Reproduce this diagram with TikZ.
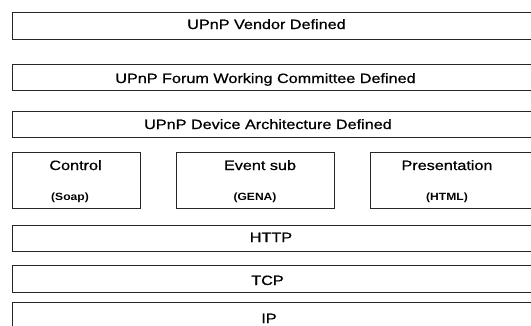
\documentclass[tikz,border=0pt]{standalone}
\usepackage{fontspec}
\setmainfont{Liberation Sans}
\newfontfamily\heavyfont[FakeBold=0.6]{Liberation Sans}
\begin{document}
\begin{tikzpicture}[x=1pt,y=-1pt,
  layer/.style={draw=black!85, line width=0.9pt, fill=white, rectangle, inner sep=0pt, anchor=north west},
  lbl/.style={font=\heavyfont\fontsize{13.5}{16}\selectfont, xscale=1.2, anchor=base, inner sep=0pt},
  sub/.style={font=\bfseries\fontsize{10.5}{12}\selectfont, xscale=1.15, anchor=base, inner sep=0pt}]
\useasboundingbox (0,0) rectangle (531,325);
\clip (0,0) rectangle (531,325);
% boxes
\node[layer, minimum width=528pt, minimum height=27pt] (vendor) at (12,12) {};
\node[layer, minimum width=528pt, minimum height=26pt] (forum) at (12,64) {};
\node[layer, minimum width=528pt, minimum height=26pt] (device) at (12,111) {};
\node[layer, minimum width=128pt, minimum height=56pt] (control) at (12,152) {};
\node[layer, minimum width=158pt, minimum height=56pt] (event) at (176,152) {};
\node[layer, minimum width=170pt, minimum height=56pt] (pres) at (370,152) {};
\node[layer, minimum width=528pt, minimum height=26pt] (http) at (12,225) {};
\node[layer, minimum width=528pt, minimum height=27pt] (tcp) at (12,265) {};
\node[layer, minimum width=528pt, minimum height=30pt] (ip) at (12,302) {};
% labels
\node[lbl] (tvendor) at (266.5,29) {UPnP Vendor Defined};
\node[lbl] (tforum) at (265.5,83) {UPnP Forum Working Committee Defined};
\node[lbl] (tdevice) at (268,129) {UPnP Device Architecture Defined};
\node[lbl] (tcontrol) at (75.5,170) {Control};
\node[sub] (tsoap) at (70,200) {(Soap)};
\node[lbl] (tevent) at (260,170) {Event sub};
\node[sub] (tgena) at (255,200) {(GENA)};
\node[lbl] (tpres) at (447,170) {Presentation};
\node[sub] (thtml) at (447,200) {(HTML)};
\node[lbl] (thttp) at (271,242) {HTTP};
\node[lbl] (ttcp) at (267.5,285) {TCP};
\node[lbl] (tip) at (269,323) {IP};
\end{tikzpicture}
\end{document}
